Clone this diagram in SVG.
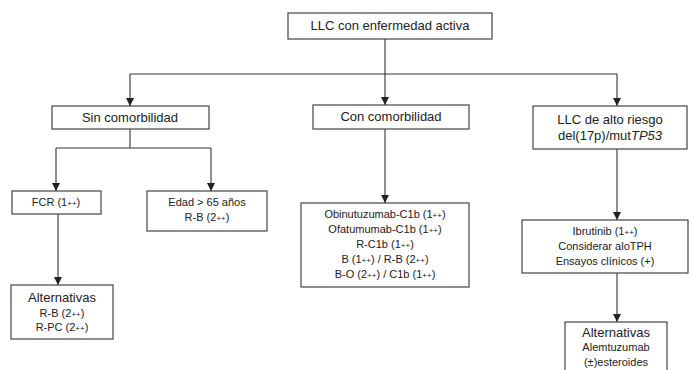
<svg xmlns="http://www.w3.org/2000/svg" width="692" height="370" viewBox="0 0 692 370">
<style>
.box{fill:#fff;stroke:#444;stroke-width:1.2}
.ln{fill:none;stroke:#333;stroke-width:1.1}
text{font-family:"Liberation Sans",Arial,sans-serif;fill:#222;text-anchor:middle}
.t12{font-size:13px}
.t10{font-size:11px}
.sm{font-size:8px}
</style>
<defs>
<marker id="ad" viewBox="0 0 8 8" refX="4" refY="8" markerWidth="8" markerHeight="8" markerUnits="userSpaceOnUse" orient="0">
<path d="M0,0 L8,0 L4,8 Z" fill="#222"/>
</marker>
</defs>
<g id="connectors">
<path class="ln" d="M385,39 V74"/>
<path class="ln" d="M130,74 H617"/>
<path class="ln" d="M130,74 V106" marker-end="url(#ad)"/>
<path class="ln" d="M385,74 V105" marker-end="url(#ad)"/>
<path class="ln" d="M617,74 V106" marker-end="url(#ad)"/>
<path class="ln" d="M130,129 V148 H56 M130,148 H211"/>
<path class="ln" d="M56,148 V191" marker-end="url(#ad)"/>
<path class="ln" d="M211,148 V191" marker-end="url(#ad)"/>
<path class="ln" d="M58,214 V285" marker-end="url(#ad)"/>
<path class="ln" d="M385,129 V203" marker-end="url(#ad)"/>
<path class="ln" d="M617,149 V220" marker-end="url(#ad)"/>
<path class="ln" d="M617,273 V322" marker-end="url(#ad)"/>
</g>
<g id="n-top"><rect class="box" x="288" y="13" width="204" height="26"/><text class="t12" x="390" y="30">LLC con enfermedad activa</text></g>
<g id="n-sin"><rect class="box" x="52" y="106" width="157" height="23"/><text class="t12" x="130" y="122">Sin comorbilidad</text></g>
<g id="n-con"><rect class="box" x="313" y="105" width="156" height="24"/><text class="t12" x="391" y="121">Con comorbilidad</text></g>
<g id="n-alto"><rect class="box" x="533" y="106" width="154" height="43"/><text class="t12" x="610" y="124">LLC de alto riesgo</text><text class="t12" x="610" y="140">del(17p)/mut<tspan font-style="italic">TP53</tspan></text></g>
<g id="n-fcr"><rect class="box" x="12" y="191" width="89" height="23"/><text class="t10" x="56" y="206">FCR (1<tspan class="sm">++</tspan>)</text></g>
<g id="n-edad"><rect class="box" x="147" y="191" width="120" height="40"/><text class="t10" x="207" y="206">Edad &gt; 65 años</text><text class="t10" x="207" y="221">R-B (2<tspan class="sm">++</tspan>)</text></g>
<g id="n-alt1"><rect class="box" x="11" y="285" width="102" height="54"/><text class="t12" x="62" y="302">Alternativas</text><text class="t10" x="62" y="317">R-B (2<tspan class="sm">++</tspan>)</text><text class="t10" x="62" y="331">R-PC (2<tspan class="sm">++</tspan>)</text></g>
<g id="n-conlist"><rect class="box" x="301" y="203" width="168" height="84"/>
<text class="t10" x="385" y="218">Obinutuzumab-C1b (1<tspan class="sm">++</tspan>)</text>
<text class="t10" x="385" y="233">Ofatumumab-C1b (1<tspan class="sm">++</tspan>)</text>
<text class="t10" x="385" y="248">R-C1b (1<tspan class="sm">++</tspan>)</text>
<text class="t10" x="385" y="263">B (1<tspan class="sm">++</tspan>) / R-B (2<tspan class="sm">++</tspan>)</text>
<text class="t10" x="385" y="278">B-O (2<tspan class="sm">++</tspan>) / C1b (1<tspan class="sm">++</tspan>)</text></g>
<g id="n-ibru"><rect class="box" x="522" y="220" width="166" height="53"/>
<text class="t10" x="605" y="235">Ibrutinib (1<tspan class="sm">++</tspan>)</text>
<text class="t10" x="605" y="250">Considerar aloTPH</text>
<text class="t10" x="605" y="265">Ensayos clínicos (+)</text></g>
<g id="n-alt2"><rect class="box" x="565" y="322" width="102" height="60"/>
<text class="t12" x="616" y="337">Alternativas</text>
<text class="t10" x="616" y="351">Alemtuzumab</text>
<text class="t10" x="616" y="366">(±)esteroides</text></g>
</svg>
